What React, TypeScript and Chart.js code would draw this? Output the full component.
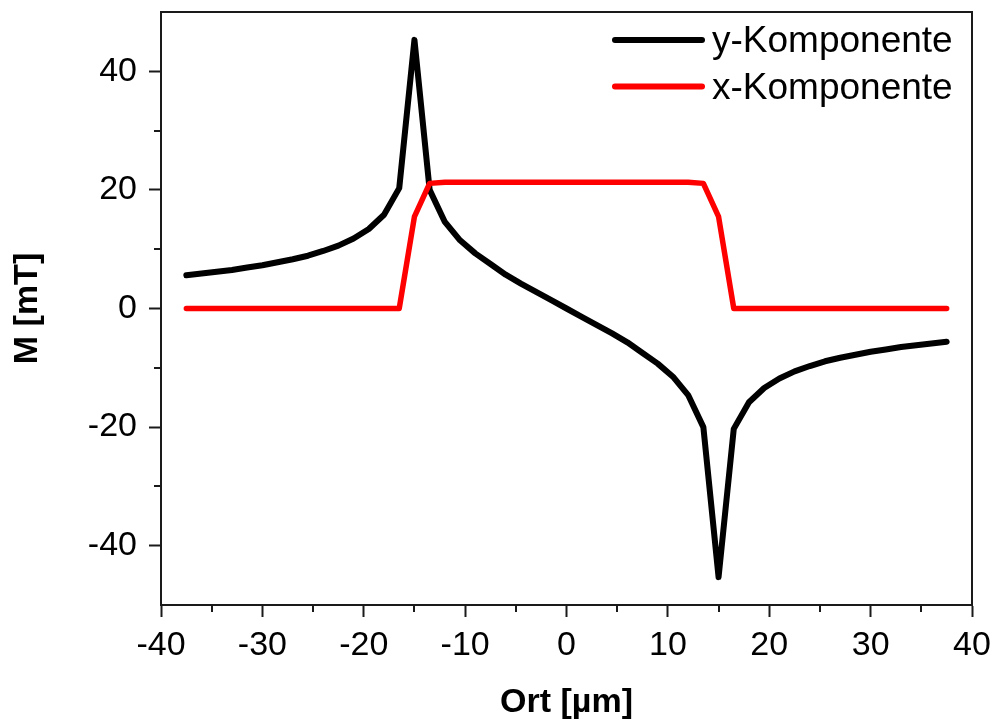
import React, { useEffect, useRef } from 'react';
import { Chart, registerables } from 'chart.js';

Chart.register(...registerables);

// Position along the sample [µm]
const ortValues = [
  -37.5, -36, -34.5, -33, -31.5, -30, -28.5, -27, -25.5, -24, -22.5, -21, -19.5, -18, -16.5,
  -15, -13.5, -12, -10.5, -9, -7.5, -6, -4.5, -3, -1.5, 0, 1.5, 3, 4.5, 6, 7.5, 9, 10.5, 12,
  13.5, 15, 16.5, 18, 19.5, 21, 22.5, 24, 25.5, 27, 28.5, 30, 31.5, 33, 34.5, 36, 37.5,
];

// y-Komponente [mT]
const yKomponente = [
  5.6, 5.9, 6.2, 6.5, 6.9, 7.3, 7.8, 8.3, 8.9, 9.7, 10.6, 11.8, 13.4, 15.8, 20.3,
  45.3, 20.0, 14.6, 11.5, 9.3, 7.5, 5.7, 4.2, 2.8, 1.4, 0, -1.4, -2.8, -4.2, -5.7, -7.5, -9.3, -11.5, -14.6,
  -20.0, -45.3, -20.3, -15.8, -13.4, -11.8, -10.6, -9.7, -8.9, -8.3, -7.8, -7.3, -6.9, -6.5, -6.2, -5.9, -5.6,
];

// x-Komponente [mT]
const xKomponente = [
  0, 0, 0, 0, 0, 0, 0, 0, 0, 0, 0, 0, 0, 0, 0,
  15.5, 21.1, 21.3, 21.3, 21.3, 21.3, 21.3, 21.3, 21.3, 21.3, 21.3, 21.3, 21.3, 21.3, 21.3, 21.3, 21.3, 21.3, 21.3,
  21.1, 15.5, 0, 0, 0, 0, 0, 0, 0, 0, 0, 0, 0, 0, 0, 0, 0,
];

const seriesLabels = ['y-Komponente', 'x-Komponente'];
const seriesColors = ['#000000', '#ff0000'];

const xMajorTicks = [-40, -30, -20, -10, 0, 10, 20, 30, 40];
const xMinorTicks = [-35, -25, -15, -5, 5, 15, 25, 35];
const yMajorTicks = [-40, -20, 0, 20, 40];
const yMinorTicks = [-30, -10, 10, 30];

const xTitle = 'Ort [µm]';
const yTitle = 'M [mT]';

const FONT = '"Liberation Sans", Arial, Helvetica, sans-serif';
const AXIS_COLOR = '#1a1a1a';

const framePlugin = {
  id: 'frameAndLegend',
  afterDraw(chart: any) {
    const { ctx, chartArea, scales } = chart;
    const { left, right, top, bottom } = chartArea;
    const xs = scales.x;
    const ys = scales.y;
    ctx.save();
    ctx.strokeStyle = AXIS_COLOR;
    ctx.lineWidth = 2;
    ctx.lineCap = 'butt';
    ctx.beginPath();
    ctx.moveTo(left - 1, top);
    ctx.lineTo(right, top);
    ctx.lineTo(right, bottom + 1);
    ctx.stroke();
    ctx.beginPath();
    xMinorTicks.forEach((v) => {
      const px = Math.round(xs.getPixelForValue(v));
      ctx.moveTo(px, bottom);
      ctx.lineTo(px, bottom + 7);
    });
    yMinorTicks.forEach((v) => {
      const py = Math.round(ys.getPixelForValue(v));
      ctx.moveTo(left, py);
      ctx.lineTo(left - 7, py);
    });
    ctx.stroke();

    // legend inside plot, top right
    const lineStart = right - 357;
    const lineEnd = right - 270;
    const textX = right - 260;
    ctx.font = `37px ${FONT}`;
    ctx.textBaseline = 'middle';
    ctx.textAlign = 'left';
    seriesLabels.forEach((label, i) => {
      const yy = top + 28 + i * 46.5;
      ctx.strokeStyle = seriesColors[i];
      ctx.lineWidth = 6;
      ctx.lineCap = 'round';
      ctx.beginPath();
      ctx.moveTo(lineStart, yy);
      ctx.lineTo(lineEnd, yy);
      ctx.stroke();
      ctx.fillStyle = '#000';
      ctx.fillText(label, textX, yy + 2);
    });
    ctx.restore();
  },
};

export default function App() {
  const canvasRef = useRef<HTMLCanvasElement | null>(null);

  useEffect(() => {
    if (!canvasRef.current) return;
    const yPoints = ortValues.map((x, i) => ({ x, y: yKomponente[i] }));
    const xPoints = ortValues.map((x, i) => ({ x, y: xKomponente[i] }));
    const chart = new Chart(canvasRef.current, {
      type: 'line',
      data: {
        datasets: [
          {
            label: seriesLabels[0],
            data: yPoints,
            borderColor: seriesColors[0],
            backgroundColor: seriesColors[0],
            borderWidth: 6,
            pointRadius: 0,
            tension: 0,
            borderJoinStyle: 'round',
            borderCapStyle: 'round',
            order: 1,
          },
          {
            label: seriesLabels[1],
            data: xPoints,
            borderColor: seriesColors[1],
            backgroundColor: seriesColors[1],
            borderWidth: 5.5,
            pointRadius: 0,
            tension: 0,
            borderJoinStyle: 'round',
            borderCapStyle: 'round',
            order: 0,
          },
        ],
      },
      options: {
        animation: false,
        responsive: true,
        maintainAspectRatio: false,
        layout: { padding: { top: 12, right: 22, left: 0, bottom: 0 } },
        plugins: {
          legend: { display: false },
          tooltip: { enabled: false },
        },
        scales: {
          x: {
            type: 'linear',
            min: -40,
            max: 40,
            afterBuildTicks: (scale: any) => {
              scale.ticks = xMajorTicks.map((v) => ({ value: v }));
            },
            afterFit: (scale: any) => {
              scale.height = 119;
              scale.paddingLeft = 0;
              scale.paddingRight = 0;
            },
            border: { display: true, color: AXIS_COLOR, width: 2 },
            grid: {
              drawOnChartArea: false,
              drawTicks: true,
              tickLength: 12,
              tickWidth: 2,
              tickColor: AXIS_COLOR,
            },
            ticks: {
              color: '#000',
              font: { family: FONT, size: 34 },
              padding: 8,
              maxRotation: 0,
              autoSkip: false,
              callback: (v: any) => String(v),
            },
            title: {
              display: true,
              text: xTitle,
              color: '#000',
              font: { family: FONT, size: 34, weight: 'bold' },
              padding: { top: 0, bottom: 1 },
            },
          },
          y: {
            type: 'linear',
            min: -50,
            max: 50,
            afterBuildTicks: (scale: any) => {
              scale.ticks = yMajorTicks.map((v) => ({ value: v }));
            },
            afterFit: (scale: any) => {
              scale.width = 161;
              scale.paddingTop = 0;
              scale.paddingBottom = 0;
            },
            border: { display: true, color: AXIS_COLOR, width: 2 },
            grid: {
              drawOnChartArea: false,
              drawTicks: true,
              tickLength: 12,
              tickWidth: 2,
              tickColor: AXIS_COLOR,
            },
            ticks: {
              color: '#000',
              font: { family: FONT, size: 34 },
              padding: 12,
              autoSkip: false,
              callback: (v: any) => String(v),
            },
            title: {
              display: true,
              text: yTitle,
              color: '#000',
              font: { family: FONT, size: 34, weight: 'bold' },
              padding: { top: 7, bottom: 0 },
            },
          },
        },
      },
      plugins: [framePlugin],
    });
    return () => chart.destroy();
  }, []);

  return (
    <div
      style={{
        position: 'fixed',
        left: 0,
        top: 0,
        width: 994,
        height: 724,
        background: '#ffffff',
      }}
    >
      <canvas ref={canvasRef} />
    </div>
  );
}
